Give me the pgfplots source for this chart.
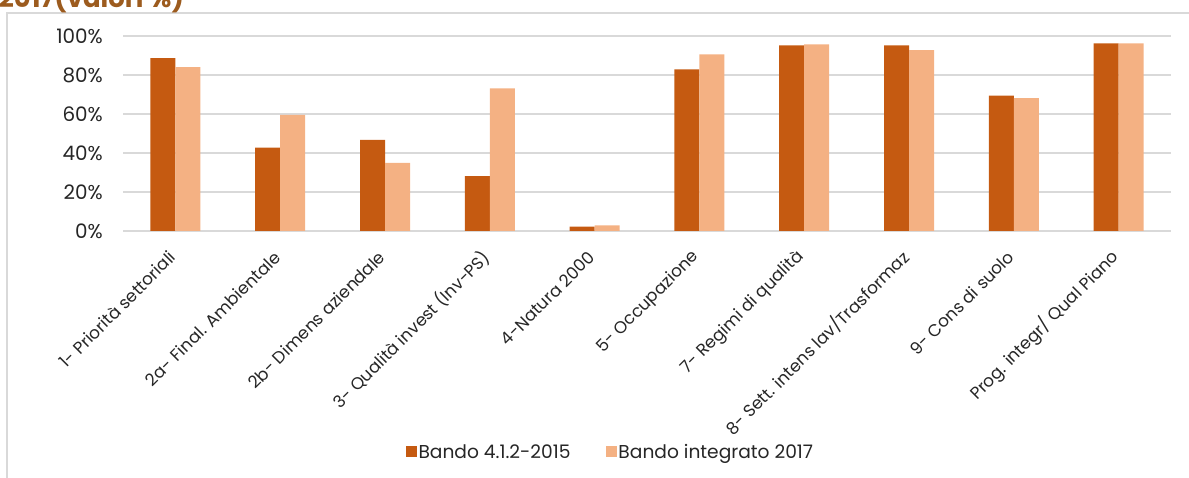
\documentclass[border=0pt]{standalone}
\usepackage{fontspec}
\setmainfont{Poppins}
\usepackage{pgfplots}
\pgfplotsset{compat=1.18}
\definecolor{dark}{HTML}{C55A11}
\definecolor{light}{HTML}{F4B183}
\definecolor{gridc}{HTML}{D9D9D9}
\definecolor{titc}{HTML}{9C5B1E}
\definecolor{txt}{HTML}{262626}
\begin{document}
\begin{tikzpicture}
\useasboundingbox (0bp,0bp) rectangle (1189bp,478bp);
\draw[gridc, line width=1.5bp] (7bp,-10bp) rectangle (1200bp,465bp);
\node[anchor=base west, font=\fontsize{26}{26}\selectfont\bfseries, text=titc, inner sep=0pt] at (-1bp,470bp) {2017(valori \%)};
\begin{axis}[
  at={(123bp,247bp)}, anchor=south west,
  scale only axis, width=1048bp, height=195bp,
  xmin=-0.5, xmax=9.5, ymin=0, ymax=100,
  ybar, bar width=25bp,
  axis line style={draw=none},
  major tick length=0pt,
  ymajorgrids, grid style={gridc, line width=1.5bp},
  ytick={0,20,40,60,80,100},
  yticklabel={\fontsize{20}{20}\selectfont\pgfmathprintnumber{\tick}\%},
  /pgf/number format/assume math mode=true,
  ticklabel style={text=txt},
  yticklabel style={inner sep=0pt, xshift=-20bp},
  xtick={0,1,2,3,4,5,6,7,8,9},
  xticklabels={{1- Priorità settoriali},{2a- Final. Ambientale},{2b- Dimens aziendale},{3- Qualità invest (Inv-PS)},{4-Natura 2000},{5- Occupazione},{7- Regimi di qualità},{8- Sett. intens lav/Trasformaz},{9- Cons di suolo},{Prog. integr/ Qual Piano}},
  xticklabel style={font=\fontsize{17}{17}\selectfont, rotate=45, anchor=east, inner sep=0pt, xshift=-18.4bp, yshift=-14.2bp},
  legend columns=2,
  legend style={at={(0.465,-1.133)}, anchor=center, draw=none, font=\fontsize{18.7}{18.7}\selectfont, text=txt,
    /tikz/every even column/.append style={column sep=33bp}},
  legend image code/.code={\fill[#1] (0bp,-5.5bp) rectangle (11bp,5.5bp);},
]
\addplot[fill=dark, draw=none, bar shift=-12.5bp] coordinates {(0,88.7) (1,42.7) (2,46.7) (3,28.2) (4,2.2) (5,82.9) (6,95.2) (7,95.2) (8,69.4) (9,96.2)};
\addplot[fill=light, draw=none, bar shift=12.5bp] coordinates {(0,84.1) (1,59.5) (2,34.9) (3,73.2) (4,2.9) (5,90.6) (6,95.7) (7,92.8) (8,68.2) (9,96.2)};
\legend{Bando 4.1.2-2015, Bando integrato 2017}
\end{axis}
\end{tikzpicture}
\end{document}
